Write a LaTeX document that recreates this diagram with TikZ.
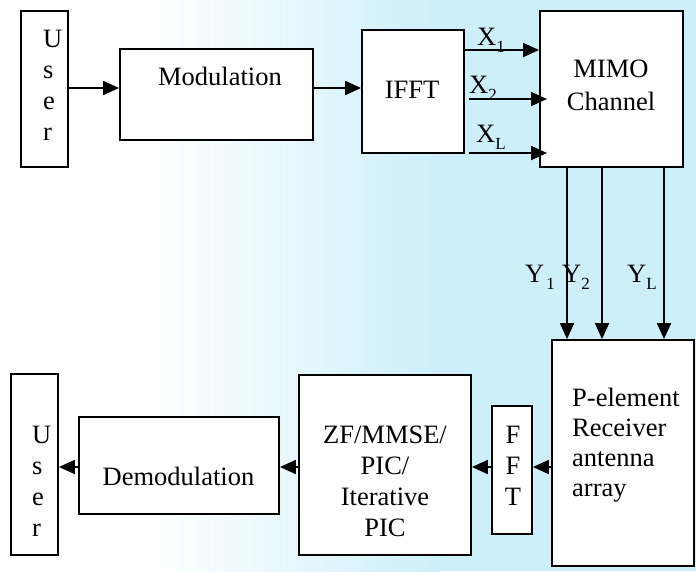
\documentclass[tikz,border=0pt]{standalone}
\usepackage{fontspec}
\setmainfont{Liberation Serif}
\usetikzlibrary{arrows.meta,calc}
\definecolor{bgblue}{RGB}{205,239,250}
\newcommand\lowsub[1]{\raisebox{-0.28em}{\fontsize{17}{17}\selectfont #1}}
\begin{document}
\begin{tikzpicture}[x=1pt,y=-1pt,
  box/.style={draw, fill=white, line width=1.8pt, inner sep=0pt},
  txt/.style={font=\fontsize{26.5}{31}\selectfont, inner sep=0pt},
  arr/.style={line width=1.8pt, -{Triangle[length=16pt,width=14pt]}}]
\useasboundingbox (0,0) rectangle (696,571);
% background
\fill[white] (0,0) rectangle (696,571);
\shade[left color=white, right color=bgblue] (150,0) rectangle (440,571);
\fill[bgblue] (440,0) rectangle (696,571);
% boxes
\node[box, minimum width=47pt, minimum height=156pt] (user1) at (44.5,89) {};
\node[box, minimum width=193pt, minimum height=91pt] (mod) at (216.5,94.5) {};
\node[box, minimum width=102pt, minimum height=123pt] (ifft) at (413,91.5) {};
\node[box, minimum width=143pt, minimum height=156pt] (mimo) at (611.5,89) {};
\node[box, minimum width=142pt, minimum height=226pt] (recv) at (623,453) {};
\node[box, minimum width=40pt, minimum height=128pt] (fft) at (512,470) {};
\node[box, minimum width=172pt, minimum height=180pt] (zf) at (385,465) {};
\node[box, minimum width=200pt, minimum height=97pt] (demod) at (179,465.5) {};
\node[box, minimum width=47pt, minimum height=181pt] (user2) at (34.5,464.5) {};
% texts
\node[txt, anchor=west, align=left] (tu1) at (43,85.5) {U\\s\\e\\r};
\node[txt, anchor=base] (tmod) at (220,85) {Modulation};
\node[txt, anchor=base] (tifft) at (412,98) {IFFT};
\node[txt, align=center, font=\fontsize{26.5}{33}\selectfont] (tmimo) at (611,85.5) {MIMO\\Channel};
\node[txt, anchor=base west] (lx1) at (477,45) {X\lowsub{1}};
\node[txt, anchor=base west] (lx2) at (469,93) {X\lowsub{2}};
\node[txt, anchor=base west] (lxl) at (476,142) {X\lowsub{L}};
\node[txt, anchor=base west] (ly1) at (525,282) {Y\kern2pt\lowsub{1}};
\node[txt, anchor=base west] (ly2) at (562,282) {Y\lowsub{2}};
\node[txt, anchor=base west] (lyl) at (627,282) {Y\lowsub{L}};
\node[txt, anchor=west, align=left, font=\fontsize{26.5}{30}\selectfont] (trecv) at (572,445) {P-element\\Receiver\\antenna\\array};
\node[txt, align=center] (tfft) at (513,466) {F\\F\\T};
\node[txt, align=center] (tzf) at (385,481) {ZF/MMSE/\\PIC/\\Iterative\\PIC};
\node[txt, anchor=base] (tdemod) at (178.5,485) {Demodulation};
\node[txt, anchor=west, align=left] (tu2) at (32,481) {U\\s\\e\\r};
% connectors top
\coordinate (r1) at (0,88);
\draw[arr] (user1.east |- r1) -- (mod.west |- r1);
\draw[arr] (mod.east |- r1) -- (ifft.west |- r1);
\coordinate (x1r) at (0,50);
\draw[arr] (ifft.east |- x1r) -- (mimo.west |- x1r);
\coordinate (x2s) at (469,99);
\coordinate (x2e) at (547,99);
\draw[arr] (x2s) -- (x2e);
\coordinate (xls) at (469,153);
\coordinate (xle) at (547,153);
\draw[arr] (xls) -- (xle);
% Y connectors
\coordinate (c1) at (567,0);
\coordinate (c2) at (602,0);
\coordinate (c3) at (664,0);
\draw[arr] (mimo.south -| c1) -- (recv.north -| c1);
\draw[arr] (mimo.south -| c2) -- (recv.north -| c2);
\draw[arr] (mimo.south -| c3) -- (recv.north -| c3);
% bottom row
\coordinate (r2) at (0,467);
\draw[arr] (recv.west |- r2) -- (fft.east |- r2);
\draw[arr] (fft.west |- r2) -- (zf.east |- r2);
\draw[arr] (zf.west |- r2) -- (demod.east |- r2);
\draw[arr] (demod.west |- r2) -- (user2.east |- r2);
\end{tikzpicture}
\end{document}
